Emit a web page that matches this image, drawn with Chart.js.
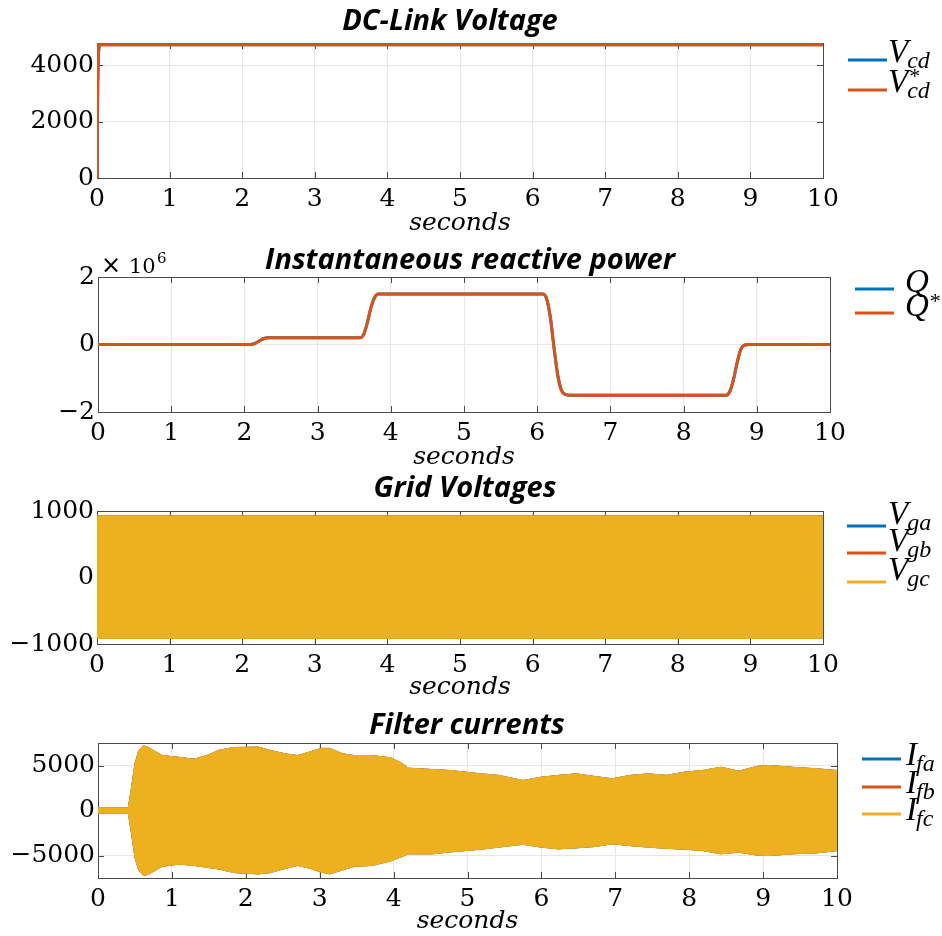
<!DOCTYPE html>
<html lang="en">
<head>
<meta charset="utf-8">
<title>DC-link voltage, reactive power, grid voltages and filter currents</title>
<script src="https://cdn.jsdelivr.net/npm/chart.js@4.4.1/dist/chart.umd.min.js"></script>
<style>
  body { margin: 0; background: #ffffff; }
  #figure { position: relative; width: 942px; height: 936px; overflow: hidden; }
  #figure canvas { position: absolute; left: 0; }
</style>
</head>
<body>
<div id="figure">
  <canvas id="dcChart" width="942" height="236" style="top:0px"></canvas>
  <canvas id="qChart" width="942" height="234" style="top:236px"></canvas>
  <canvas id="gridChart" width="942" height="230" style="top:470px"></canvas>
  <canvas id="filterChart" width="942" height="236" style="top:700px"></canvas>
</div>
<script>
// time axis shared by all panels (seconds)
const timeTicks = [0, 1, 2, 3, 4, 5, 6, 7, 8, 9, 10];

// DC-link voltage (V)
const dcTime = [0, 0.004, 0.02, 0.035, 10];
const dcVoltage = [0, 3100, 4400, 4720, 4720];
const dcVoltageRef = [0, 1500, 4720, 4720, 4720];
const dcRange = [0, 4780];
const dcTicks = [0, 2000, 4000];
const dcNames = ['V_{cd}', 'V^{*}_{cd}'];

// instantaneous reactive power (var)
const qTime = [0, 2.08, 2.14, 2.2, 2.26, 2.32, 2.38, 3.58, 3.63, 3.68, 3.73, 3.78, 3.83, 3.9,
  6.08, 6.13, 6.18, 6.23, 6.28, 6.33, 6.38, 6.44, 8.58, 8.63, 8.68, 8.73, 8.78, 8.83, 8.9, 10];
const qMeasured = [0, 0, 0.03e6, 0.1e6, 0.17e6, 0.2e6, 0.2e6, 0.2e6, 0.3e6, 0.65e6, 1.1e6, 1.4e6, 1.5e6, 1.5e6,
  1.5e6, 1.35e6, 0.8e6, -0.1e6, -0.9e6, -1.35e6, -1.48e6, -1.5e6, -1.5e6, -1.4e6, -1.05e6, -0.55e6, -0.15e6, -0.02e6, 0, 0];
const qReference = [0, 0, 0.03e6, 0.1e6, 0.17e6, 0.2e6, 0.2e6, 0.2e6, 0.3e6, 0.65e6, 1.1e6, 1.4e6, 1.5e6, 1.5e6,
  1.5e6, 1.35e6, 0.8e6, -0.1e6, -0.9e6, -1.35e6, -1.48e6, -1.5e6, -1.5e6, -1.4e6, -1.05e6, -0.55e6, -0.15e6, -0.02e6, 0, 0];
const qRange = [-2e6, 2e6];
const qTicks = [-2e6, 0, 2e6];
const qNames = ['Q', 'Q^{*}'];

// grid voltages: peak envelope of the three phase waves (V)
const gridTime = [0, 10];
const gridUpper = [925, 925];
const gridLower = [-915, -915];
const gridRange = [-1000, 1000];
const gridTicks = [-1000, 0, 1000];
const gridNames = ['V_{ga}', 'V_{gb}', 'V_{gc}'];

// filter currents: peak envelope of the three phase waves (A)
const filterTime = [0, 0.41, 0.455, 0.5, 0.55, 0.61, 0.68, 0.87, 1.1, 1.3, 1.47, 1.64, 1.84, 2.17, 2.33, 2.53,
  2.7, 2.86, 3.02, 3.14, 3.31, 3.47, 3.71, 3.96, 4.12, 4.2, 4.53, 4.77, 5.18, 5.42, 5.75, 6.0, 6.23, 6.47,
  6.72, 6.96, 7.2, 7.45, 7.69, 7.94, 8.18, 8.43, 8.67, 8.92, 9.08, 9.4, 9.73, 10];
const filterUpper = [300, 300, 2600, 5200, 6600, 7200, 7000, 6100, 5900, 5700, 6100, 6700, 7000, 7040, 6670, 6300,
  6100, 6480, 6900, 6900, 6300, 6100, 6100, 5850, 5200, 4700, 4550, 4440, 4070, 3900, 3330, 3700, 3900, 4070,
  3780, 3520, 3900, 4070, 3900, 4260, 4440, 4800, 4370, 4900, 5000, 4800, 4630, 4440];
const filterLower = [-300, -300, -2600, -5200, -6600, -7200, -7100, -6200, -5950, -6100, -6300, -6500, -6900, -7040, -6900, -6450,
  -6100, -6400, -6850, -7040, -6600, -6200, -6100, -5600, -5100, -4810, -4810, -4600, -4300, -4070, -3750, -4070, -4260, -4150,
  -4000, -3700, -3900, -4070, -4200, -4300, -4440, -4810, -4630, -4950, -5000, -4810, -4700, -4450];
const filterRange = [-7500, 7500];
const filterTicks = [-5000, 0, 5000];
const filterNames = ['I_{fa}', 'I_{fb}', 'I_{fc}'];

const BLUE = '#0072BD';
const ORANGE = '#D95319';
const YELLOW = '#EDB120';
const GRID = '#e6e6e6';
const tickFont = { family: 'DejaVu Serif', size: 25, lineHeight: 1.2 };

function toXY(times, values) {
    return times.map((t, i) => ({ x: t, y: values[i] }));
}

// "V^{*}_{cd}" -> { base: 'V', sup: '*', sub: 'cd' }
function parseName(name) {
    const sup = (name.match(/\^\{([^}]*)\}/) || [])[1] || '';
    const sub = (name.match(/_\{([^}]*)\}/) || [])[1] || '';
    return { base: name.charAt(0), sup, sub };
}

function minusSign(v) {
    return v < 0 ? '\u2212' + Math.abs(v) : String(v);
}

// MATLAB style box with inward tick marks on all four sides
const axesBox = {
    id: 'axesBox',
    beforeDatasetsDraw(chart) {
        const { ctx, chartArea: a, scales: { x, y } } = chart;
        const len = 6;
        ctx.save();
        ctx.strokeStyle = '#4a4a4a';
        ctx.lineWidth = 1;
        ctx.beginPath();
        x.ticks.forEach(t => {
            const px = Math.round(x.getPixelForValue(t.value)) + 0.5;
            ctx.moveTo(px, a.bottom); ctx.lineTo(px, a.bottom - len);
            ctx.moveTo(px, a.top); ctx.lineTo(px, a.top + len);
        });
        y.ticks.forEach(t => {
            const py = Math.round(y.getPixelForValue(t.value)) + 0.5;
            ctx.moveTo(a.left, py); ctx.lineTo(a.left + len, py);
            ctx.moveTo(a.right, py); ctx.lineTo(a.right - len, py);
        });
        ctx.stroke();
        ctx.strokeRect(Math.round(a.left) + 0.5, Math.round(a.top) + 0.5,
            Math.round(a.right - a.left), Math.round(a.bottom - a.top));
        ctx.restore();
    }
};

// legend with sub/superscripts, drawn to the right of the axes
const figureLegend = {
    id: 'figureLegend',
    afterDraw(chart, args, opts) {
        if (!opts || !opts.entries) return;
        const ctx = chart.ctx;
        ctx.save();
        ctx.textAlign = 'left';
        ctx.textBaseline = 'alphabetic';
        opts.entries.forEach((entry, i) => {
            const y = opts.rows[i];
            ctx.strokeStyle = entry.color;
            ctx.lineWidth = 3;
            ctx.beginPath();
            ctx.moveTo(opts.lineFrom, y);
            ctx.lineTo(opts.lineTo, y);
            ctx.stroke();

            const { base, sup, sub } = parseName(entry.name);
            ctx.fillStyle = '#000';
            ctx.font = "italic 33px 'Liberation Serif'";
            ctx.fillText(base, opts.textX, y + opts.baseShift);
            const w = ctx.measureText(base).width;
            if (sub) {
                ctx.font = "italic 24px 'Liberation Serif'";
                ctx.fillText(sub, opts.textX + w - 1, y + opts.subShift);
            }
            if (sup) {
                ctx.font = "22px 'Liberation Serif'";
                ctx.fillText(sup, opts.textX + w + 1, y + opts.supShift);
            }
        });
        ctx.restore();
    }
};

// "x 10^6" multiplier above the y axis
const exponentLabel = {
    id: 'exponentLabel',
    afterDraw(chart, args, opts) {
        if (!opts || !opts.text) return;
        const ctx = chart.ctx;
        ctx.save();
        ctx.fillStyle = '#000';
        ctx.textBaseline = 'alphabetic';
        ctx.font = "24px 'DejaVu Sans'";
        ctx.fillText('\u00d7', opts.x, opts.y);
        ctx.font = "21px 'DejaVu Serif'";
        ctx.fillText(opts.text, opts.x + 28, opts.y);
        ctx.font = "15px 'DejaVu Serif'";
        ctx.fillText(opts.power, opts.x + 56, opts.y - 10);
        ctx.restore();
    }
};

function lineDataset(times, values, color, order) {
    return {
        data: toXY(times, values),
        yAxisID: 'y',
        borderColor: color,
        backgroundColor: color,
        borderWidth: 3,
        fill: false,
        order: order
    };
}

function bandDatasets(times, upper, lower, color, order) {
    return [
        { data: toXY(times, upper), yAxisID: 'y', borderColor: color, backgroundColor: color, borderWidth: 1, fill: '+1', order: order },
        { data: toXY(times, lower), yAxisID: 'y', borderColor: color, backgroundColor: color, borderWidth: 1, fill: false, order: order }
    ];
}

function makeChart(canvasId, panel, datasets, range, yTicks, yFormat) {
    const canvas = document.getElementById(canvasId);
    const area = panel.area;
    // the title is centred over [0, width - padRight]; an empty right-hand
    // box keeps room for the legend so the plot still ends at area.right
    const padRight = Math.max(0, Math.min(canvas.width - area.right, canvas.width - 2 * panel.titleCenter));
    const legendSpace = canvas.width - area.right - padRight;
    return new Chart(canvas, {
        type: 'line',
        data: { datasets: datasets },
        options: {
            responsive: false,
            animation: false,
            events: [],
            layout: { padding: { left: 0, top: 0, bottom: 0, right: padRight } },
            elements: { point: { radius: 0 } },
            plugins: {
                legend: { display: false },
                tooltip: { enabled: false },
                title: {
                    display: true,
                    text: panel.title,
                    color: '#000',
                    font: { family: 'Open Sans', size: 29, weight: 'bold', style: 'italic', lineHeight: 1 },
                    padding: { top: panel.titleTop, bottom: area.top - panel.titleTop - 29 }
                },
                figureLegend: panel.legend,
                exponentLabel: panel.exponent || {}
            },
            scales: {
                x: {
                    type: 'linear',
                    min: 0,
                    max: 10,
                    afterBuildTicks: s => { s.ticks = timeTicks.map(v => ({ value: v })); },
                    afterFit: s => { s.height = canvas.height - area.bottom; },
                    grid: { color: GRID, drawTicks: false },
                    border: { display: false },
                    ticks: { color: '#000', padding: 6, font: tickFont, maxRotation: 0, autoSkip: false },
                    title: {
                        display: true,
                        text: 'seconds',
                        color: '#000',
                        font: { family: 'DejaVu Serif', size: 25, style: 'italic', lineHeight: 1 },
                        padding: { top: 0, bottom: panel.xTitleBottom }
                    }
                },
                y: {
                    type: 'linear',
                    position: 'left',
                    min: range[0],
                    max: range[1],
                    afterBuildTicks: s => { s.ticks = yTicks.map(v => ({ value: v })); },
                    afterFit: s => { s.width = area.left; },
                    grid: { color: GRID, drawTicks: false },
                    border: { display: false },
                    ticks: { color: '#000', padding: 3, font: tickFont, callback: yFormat }
                },
                legendSpace: {
                    type: 'linear',
                    position: 'right',
                    afterFit: s => { s.width = legendSpace; },
                    grid: { display: false },
                    border: { display: false },
                    ticks: { display: false }
                }
            }
        },
        plugins: [axesBox, figureLegend, exponentLabel]
    });
}

document.addEventListener('DOMContentLoaded', function () {
    // DC-link voltage
    makeChart('dcChart', {
        title: 'DC-Link Voltage',
        titleCenter: 450,
        area: { left: 97, right: 823, top: 43, bottom: 178 },
        titleTop: 7,
        xTitleBottom: 0,
        legend: {
            entries: [{ name: dcNames[0], color: BLUE }, { name: dcNames[1], color: ORANGE }],
            rows: [60, 90], lineFrom: 848, lineTo: 887, textX: 888,
            baseShift: 2, subShift: 8, supShift: -7
        }
    }, [
        lineDataset(dcTime, dcVoltage, BLUE, 2),
        lineDataset(dcTime, dcVoltageRef, ORANGE, 1)
    ], dcRange, dcTicks, v => minusSign(v));

    // reactive power, ticks shown in units of 10^6
    makeChart('qChart', {
        title: 'Instantaneous reactive power',
        titleCenter: 470,
        area: { left: 98, right: 830, top: 41, bottom: 176 },
        titleTop: 10.5,
        xTitleBottom: 0.5,
        exponent: { text: '10', power: '6', x: 101, y: 37 },
        legend: {
            entries: [{ name: qNames[0], color: BLUE }, { name: qNames[1], color: ORANGE }],
            rows: [53, 77], lineFrom: 855, lineTo: 894, textX: 905,
            baseShift: 3, subShift: 8, supShift: -5
        }
    }, [
        Object.assign(lineDataset(qTime, qMeasured, BLUE, 2), { cubicInterpolationMode: 'monotone' }),
        Object.assign(lineDataset(qTime, qReference, ORANGE, 1), { cubicInterpolationMode: 'monotone' })
    ], qRange, qTicks, v => minusSign(v / 1e6));

    // grid voltages
    makeChart('gridChart', {
        title: 'Grid Voltages',
        titleCenter: 465,
        area: { left: 97, right: 823, top: 41, bottom: 174 },
        titleTop: 4.5,
        xTitleBottom: 0,
        legend: {
            entries: [{ name: gridNames[0], color: BLUE }, { name: gridNames[1], color: ORANGE }, { name: gridNames[2], color: YELLOW }],
            rows: [56, 83, 112], lineFrom: 847, lineTo: 886, textX: 888,
            baseShift: -2, subShift: 4, supShift: -10
        }
    }, [].concat(
        bandDatasets(gridTime, gridUpper, gridLower, BLUE, 3),
        bandDatasets(gridTime, gridUpper, gridLower, ORANGE, 2),
        bandDatasets(gridTime, gridUpper, gridLower, YELLOW, 1)
    ), gridRange, gridTicks, v => minusSign(v));

    // filter currents
    makeChart('filterChart', {
        title: 'Filter currents',
        titleCenter: 467,
        area: { left: 98, right: 837, top: 43, bottom: 178 },
        titleTop: 11.5,
        xTitleBottom: 2.5,
        legend: {
            entries: [{ name: filterNames[0], color: BLUE }, { name: filterNames[1], color: ORANGE }, { name: filterNames[2], color: YELLOW }],
            rows: [59, 87, 114], lineFrom: 862, lineTo: 901, textX: 906,
            baseShift: 6, subShift: 12, supShift: -8
        }
    }, [].concat(
        bandDatasets(filterTime, filterUpper, filterLower, BLUE, 3),
        bandDatasets(filterTime, filterUpper, filterLower, ORANGE, 2),
        bandDatasets(filterTime, filterUpper, filterLower, YELLOW, 1)
    ), filterRange, filterTicks, v => minusSign(v));

    console.log('All four panels drawn.');
});
</script>
</body>
</html>
